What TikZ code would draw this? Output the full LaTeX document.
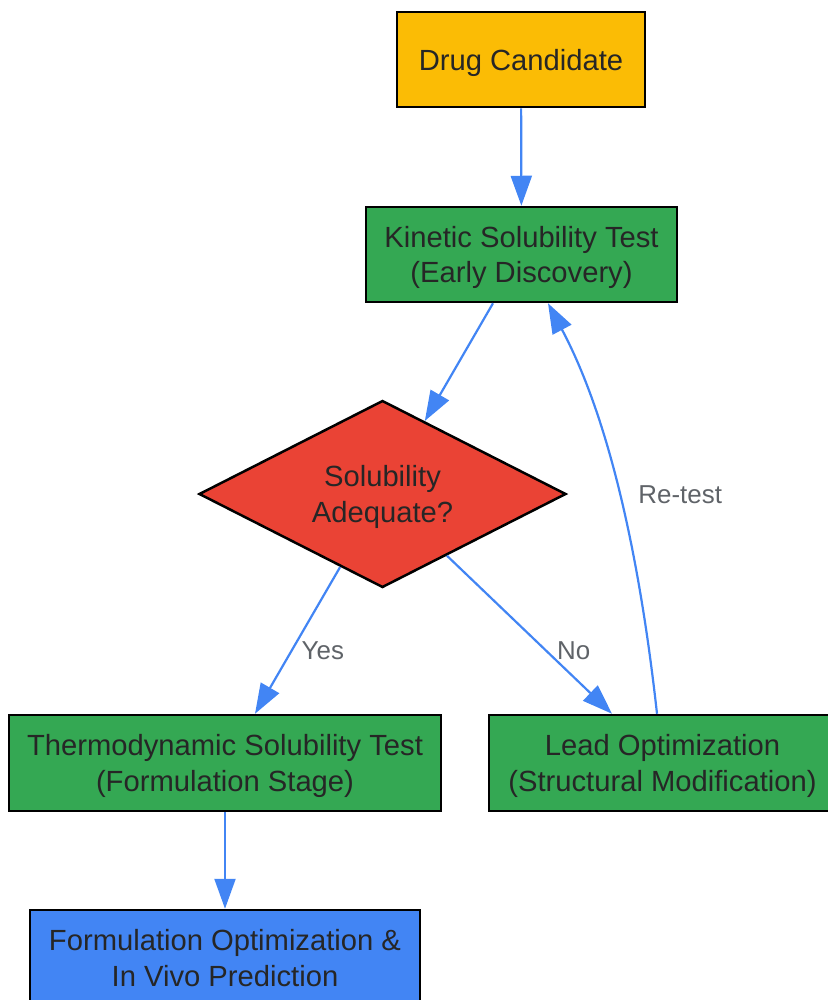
\documentclass[tikz,border=0pt]{standalone}
\usepackage{fontspec}
\setmainfont{Liberation Sans}
\definecolor{gyellow}{HTML}{FBBC05}
\definecolor{ggreen}{HTML}{34A853}
\definecolor{gred}{HTML}{EA4335}
\definecolor{gblue}{HTML}{4285F4}
\definecolor{textgray}{HTML}{262626}
\definecolor{labelgray}{HTML}{5F6368}
\usetikzlibrary{arrows.meta,shapes.geometric}

\begin{document}
\begin{tikzpicture}[x=1bp,y=-1bp,
    box/.style={draw=black, line width=2.5bp, text=textgray, align=center,
      inner sep=0pt, text depth=0pt, font=\fontsize{29.3}{35.5}\selectfont},
    flow/.style={draw=gblue, line width=2.2bp, -{Triangle[length=30bp,width=21bp]}},
    edgelabel/.style={text=labelgray, inner sep=0pt, font=\fontsize{26}{30}\selectfont},
  ]
  \useasboundingbox (0,0) rectangle (828,1000);

  \node [box, fill=gyellow, minimum width=248bp, minimum height=95bp] at (521,59.5) (drug) {Drug Candidate};
  \node [box, fill=ggreen, minimum width=311bp, minimum height=95bp] at (521.5,254.5) (kinetic) {Kinetic Solubility Test\\(Early Discovery)};
  \node [box, fill=gred, diamond, shape aspect=2, minimum width=367bp, minimum height=187bp] at (382.5,494) (adequate) {Solubility\\Adequate?};
  \node [box, fill=ggreen, minimum width=432bp, minimum height=96bp] at (225,763) (thermo) {Thermodynamic Solubility Test\\(Formulation Stage)};
  \node [box, fill=ggreen, minimum width=347bp, minimum height=96bp] at (662.5,763) (lead) {Lead Optimization\\(Structural Modification)};
  \node [box, fill=gblue, minimum width=390bp, minimum height=96bp] at (225,958) (formulation) {Formulation Optimization \&\\In Vivo Prediction};

  \draw [flow] (drug) -- (kinetic);
  \draw [flow] ([xshift=-28.5bp]kinetic.south) -- (adequate);
  \draw [flow] (adequate) -- node [edgelabel, pos=0.57, right=9bp] {Yes} ([xshift=30bp]thermo.north);
  \draw [flow] (adequate) -- node [edgelabel, pos=0.6, right=10bp] {No} ([xshift=-50.5bp]lead.north);
  \draw [flow] ([xshift=-5.5bp]lead.north) .. controls (640,560) and (610,420) ..
    node [edgelabel, pos=0.5, right=18bp] {Re-test} ([xshift=26.5bp]kinetic.south);
  \draw [flow] (thermo) -- (formulation);
\end{tikzpicture}
\end{document}
